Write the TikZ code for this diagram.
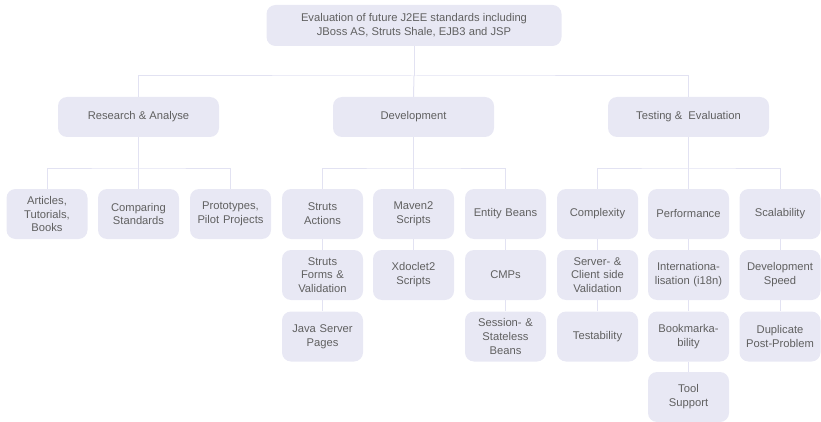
\documentclass[tikz,border=0pt]{standalone}
\usepackage{fontspec}
\setmainfont{Liberation Sans}
\definecolor{boxfill}{HTML}{E8E8F4}
\definecolor{linec}{HTML}{E2E2F2}
\definecolor{txt}{HTML}{606060}
\begin{document}
\begin{tikzpicture}[x=1pt,y=-1pt,
  box/.style={fill=boxfill, rounded corners=9pt, text=txt, align=center,
    font=\fontsize{11.2}{13.8}\selectfont, inner sep=0pt},
  leaf/.style={box, minimum width=81pt, minimum height=50pt, text width=80pt},
  mid/.style={box, minimum width=161pt, minimum height=40pt},
  conn/.style={draw=linec, line width=1pt}]
\useasboundingbox (0,0) rectangle (821,422);
% root
\node[box, minimum width=295pt, minimum height=41pt] (root) at (414,25.5) {Evaluation of future J2EE standards including\\JBoss AS, Struts Shale, EJB3 and JSP};
% level 2
\node[mid] (ra) at (138.5,117) {Research \& Analyse};
\node[mid] (dev) at (413.5,117) {Development};
\node[mid] (te) at (688.5,117) {Testing \& ~Evaluation};
% research children
\node[leaf] (a1) at (47,214) {Articles,\\Tutorials,\\Books};
\node[leaf] (a2) at (138.5,214) {Comparing\\Standards};
\node[leaf] (a3) at (230.5,214) {Prototypes,\\Pilot Projects};
% development
\node[leaf] (d1) at (322.5,214) {Struts\\Actions};
\node[leaf] (d1b) at (322.5,275) {Struts\\Forms \&\\Validation};
\node[leaf] (d1c) at (322.5,336.5) {Java Server\\Pages};
\node[leaf] (d2) at (413.5,214) {Maven2\\Scripts};
\node[leaf] (d2b) at (413.5,275) {Xdoclet2\\Scripts};
\node[leaf] (d3) at (505.5,214) {Entity Beans};
\node[leaf] (d3b) at (505.5,275) {CMPs};
\node[leaf] (d3c) at (505.5,336.5) {Session- \&\\Stateless\\Beans};
% testing
\node[leaf] (t1) at (597.5,214) {Complexity};
\node[leaf] (t1b) at (597.5,275) {Server- \&\\Client side\\Validation};
\node[leaf] (t1c) at (597.5,336.5) {Testability};
\node[leaf] (t2) at (688.5,214) {Performance};
\node[leaf] (t2b) at (688.5,275) {Internationa-\\lisation (i18n)};
\node[leaf] (t2c) at (688.5,336.5) {Bookmarka-\\bility};
\node[leaf] (t2d) at (688.5,397) {Tool\\Support};
\node[leaf] (t3) at (780,214) {Scalability};
\node[leaf] (t3b) at (780,275) {Development\\Speed};
\node[leaf] (t3c) at (780,336.5) {Duplicate\\Post-Problem};
% connectors
\coordinate (j0) at (414,76);
\draw[conn] (root.south) -- (j0);
\draw[conn] (ra.north) |- (j0) -| (te.north);
\draw[conn] (j0) -- (dev.north);
\foreach \p/\a/\b/\c in {ra/a1/a2/a3, dev/d1/d2/d3, te/t1/t2/t3}{
  \draw[conn] (\p.south) -- (\b.north);
  \draw[conn] (\a.north) |- (\b.north |- 0,169) -| (\c.north);
}
\foreach \u/\v in {d1/d1b, d1b/d1c, d2/d2b, d3/d3b, d3b/d3c, t1/t1b, t1b/t1c, t2/t2b, t2b/t2c, t2c/t2d, t3/t3b, t3b/t3c}{
  \draw[conn] (\u.south) -- (\v.north);
}
\end{tikzpicture}
\end{document}
